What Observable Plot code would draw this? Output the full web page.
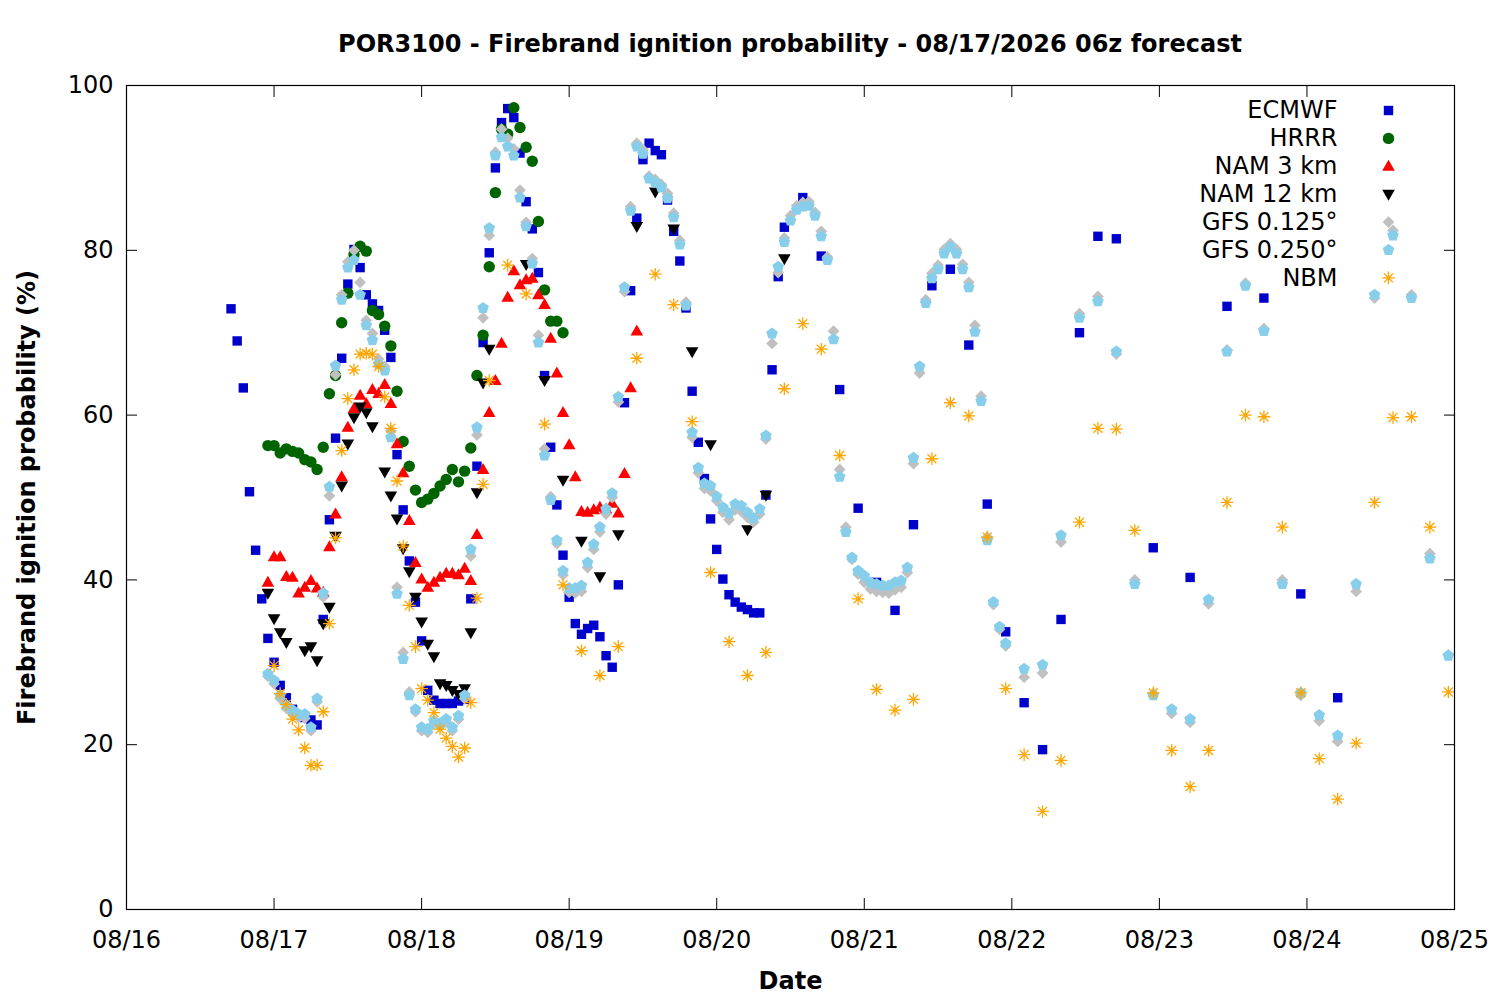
<!DOCTYPE html>
<html>
<head>
<meta charset="utf-8">
<script src="https://cdn.jsdelivr.net/npm/d3@7"></script>
<script src="https://cdn.jsdelivr.net/npm/@observablehq/plot@0.6"></script>
<style>
  html, body { margin: 0; padding: 0; background: #fff; }
  #title { box-sizing: border-box; width: 1500px; height: 62px; padding: 32px 46px 0 126px;
    font: bold 24px/24px "DejaVu Sans", sans-serif; text-align: center; color: #000; white-space: nowrap; }
  svg { display: block; }
</style>
</head>
<body>
<div id="title">POR3100 - Firebrand ignition probability - 08/17/2026 06z forecast</div>
<div id="chart"></div>
<script>
// ---------- forecast-hour schedules (hours after 08/16 00:00) ----------
function range(a, b, step) { const r = []; for (let h = a; h <= b; h += step) r.push(h); return r; }

const ecmwfHours = [...range(17, 107, 1), ...range(110, 161, 3), ...range(167, 197, 6)];
const ecmwfValues = [
  72.9, 69.0, 63.3, 50.7, 43.6, 37.7, 32.9, 30.0, 27.2, 25.7,
  24.3, 23.6, 23.3, 23.0, 22.4, 35.2, 47.3, 57.2, 66.9, 75.9,
  80.1, 77.9, 74.6, 73.5, 72.7, 70.3, 67.0, 55.2, 48.5, 42.3,
  37.3, 32.6, 26.6, 25.4, 25.0, 25.0, 25.0, 25.3, 25.5, 37.7,
  53.8, 68.8, 79.7, 90.0, 95.5, 97.2, 96.1, 91.8, 85.9, 82.6,
  77.3, 64.8, 56.1, 49.1, 43.0, 37.9, 34.7, 33.4, 34.1, 34.5,
  33.1, 30.8, 29.4, 39.4, 61.5, 75.1, 83.9, 91.0, 93.0, 92.1,
  91.6, 86.1, 82.3, 78.7, 73.0, 62.9, 56.7, 52.3, 47.4, 43.7,
  40.1, 38.2, 37.3, 36.7, 36.4, 36.0, 36.0, 50.3, 65.5, 76.8,
  82.8,
  86.4, 79.3, 63.1, 48.7, 39.7, 36.3, 46.7, 75.7, 77.7, 68.5,
  49.2, 33.7, 25.1, 19.4, 35.2, 70.0, 81.7, 81.4,
  43.9, 40.3, 73.2, 74.2, 38.3, 25.7
];

const hrrrHours = range(23, 71, 1);
const hrrrValues = [
  56.3, 56.3, 55.4, 55.9, 55.6, 55.4, 54.6, 54.3, 53.4, 56.1,
  62.6, 64.8, 71.2, 74.8, 79.5, 80.5, 79.9, 72.7, 72.2, 70.8,
  68.4, 62.9, 56.8, 53.8, 50.9, 49.4, 49.8, 50.5, 51.4, 52.2,
  53.4, 51.9, 53.2, 56.0, 64.8, 69.7, 78.0, 87.0, 94.7, 94.1,
  97.3, 94.9, 92.5, 90.8, 83.5, 75.2, 71.4, 71.4, 70.0
];

const nam3Hours = range(23, 83, 1);
const nam3Values = [
  39.7, 42.8, 42.8, 40.4, 40.3, 38.4, 39.1, 39.9, 39.0, 38.5,
  44.0, 48.0, 52.5, 58.5, 60.8, 62.4, 61.4, 63.1, 62.6, 63.7,
  61.4, 56.5, 53.0, 47.2, 42.1, 40.1, 39.1, 39.7, 40.3, 40.8,
  40.8, 40.6, 41.4, 39.9, 45.5, 53.4, 60.3, 64.2, 68.7, 74.3,
  77.5, 75.8, 76.4, 76.6, 74.6, 73.4, 69.3, 65.1, 60.3, 56.4,
  52.5, 48.3, 48.2, 48.5, 48.8, 48.6, 49.3, 48.1, 52.9, 63.3,
  70.2
];

const nam12Hours = [...range(23, 59, 1), ...range(62, 107, 3)];
const nam12Values = [
  38.4, 35.3, 33.6, 32.4, null, null, 31.4, 31.9, 30.2, 34.7,
  36.7, 45.3, 51.4, 56.5, 59.7, 61.0, 60.3, 58.6, null, 53.1,
  50.2, 47.4, 43.8, 41.0, 37.9, 34.9, 32.2, 30.7, 27.4, 27.2,
  26.6, 26.1, 26.8, 33.6, 50.6, 63.9, 68.0,
  null, 78.3, 64.2, 52.1, 44.7, 40.4, 45.5, 82.9, 87.1, 82.6,
  67.7, 56.4, null, 46.1, 50.3, 79.0
];

const gfsHours = [...range(23, 143, 1), ...range(146, 215, 3)];
const gfs0125Values = [
  28.3, 27.4, 25.6, 24.4, 23.8, 23.3, 23.2, 21.7, 25.2, 37.9,
  50.2, 64.9, 74.6, 78.6, 80.0, 76.1, 71.5, 69.9, 66.8, 65.9,
  58.1, 39.1, 31.2, 26.4, 24.0, 21.7, 21.5, 22.5, 22.2, 22.7,
  21.7, 23.1, 25.6, 42.9, 57.6, 71.8, 81.8, 91.9, 94.7, 93.6,
  92.3, 87.3, 83.4, 79.0, 69.7, 55.9, 50.1, 44.4, 40.6, 38.5,
  38.4, 38.6, 41.5, 43.7, 45.8, 48.0, 50.0, 61.6, 75.0, 85.3,
  93.0, 92.2, 89.0, 88.6, 88.0, 86.9, 84.5, 81.2, 73.7, 57.3,
  53.0, 51.1, 50.8, 49.6, 48.2, 47.3, 48.5, 48.3, 47.6, 47.0,
  48.0, 57.1, 68.7, 77.3, 81.5, 84.2, 85.4, 85.8, 85.9, 84.6,
  82.3, 79.2, 70.2, 53.4, 46.4, 42.5, 40.7, 39.7, 38.9, 38.6,
  38.5, 38.4, 38.8, 39.1, 40.9, 54.1, 65.1, 74.0, 77.2, 78.2,
  80.1, 80.8, 80.1, 78.3, 76.1, 70.9, 62.3, 45.2, 37.0, 34.0,
  32.0,
  28.2, 28.7, 44.6, 72.3, 74.4, 67.4, 40.0, 26.2, 23.8, 22.7,
  37.1, 67.9, 76.0, 70.5, 40.0, 26.0, 22.9, 20.4, 38.6, 74.2,
  82.4, 74.6, 43.2, 30.9
];
const gfs0250Values = [
  28.6, 27.8, 26.0, 24.8, 24.2, 23.7, 23.7, 22.1, 25.6, 38.4,
  51.3, 66.0, 74.0, 77.9, 78.8, 74.6, 70.9, 69.1, 66.2, 65.4,
  57.3, 38.3, 30.4, 26.0, 24.3, 22.1, 21.9, 22.9, 22.6, 23.1,
  22.1, 23.5, 26.0, 43.7, 58.5, 73.0, 82.7, 91.5, 93.7, 92.6,
  91.5, 86.4, 82.9, 78.4, 68.8, 55.1, 49.7, 44.8, 41.1, 39.0,
  39.0, 39.3, 42.1, 44.3, 46.4, 48.6, 50.5, 62.2, 75.5, 84.8,
  92.6, 91.7, 88.7, 88.2, 87.6, 86.3, 84.0, 80.7, 73.3, 57.9,
  53.6, 51.7, 51.4, 50.1, 48.8, 48.1, 49.2, 49.0, 48.2, 47.5,
  48.6, 57.5, 69.9, 78.0, 81.0, 83.6, 84.9, 85.3, 85.4, 84.2,
  81.7, 78.8, 69.2, 52.5, 45.8, 42.7, 41.1, 40.5, 39.7, 39.5,
  39.3, 39.3, 39.7, 39.9, 41.5, 54.8, 65.9, 73.6, 76.6, 77.7,
  79.6, 80.4, 79.6, 77.7, 75.5, 70.1, 61.7, 44.8, 37.3, 34.3,
  32.3,
  29.2, 29.7, 45.4, 71.8, 73.8, 67.7, 39.5, 26.0, 24.3, 23.1,
  37.6, 67.7, 75.7, 70.2, 39.5, 26.3, 23.6, 21.1, 39.5, 74.6,
  81.8, 74.2, 42.6, 30.8
];

const nbmHours = [...range(24, 59, 1), ...range(62, 215, 3)];
const nbmValues = [
  29.6, 26.2, 24.9, 23.1, 21.8, 19.6, 17.5, 17.5, 24.0, 34.7,
  45.1, 55.7, 62.0, 65.5, 67.4, 67.5, 67.4, 65.9, 62.2, 58.4,
  52.0, 44.1, 36.9, 31.9, 26.8, 25.4, 23.9, 21.9, 20.8, 19.8,
  18.5, 19.6, 25.1, 37.8, 51.6, 64.2,
  78.2, 74.7, 58.9, 39.4, 31.4, 28.4, 31.9, 66.9, 77.1, 73.4,
  59.2, 40.9, 32.5, 28.4, 31.2, 63.2, 71.1, 68.0, 55.1, 37.7,
  26.7, 24.2, 25.5, 54.7, 61.5, 59.9, 45.2, 26.8, 18.8, 11.9,
  18.1, 47.0, 58.4, 58.3, 46.0, 26.3, 19.3, 14.9, 19.3, 49.4,
  60.0, 59.8, 46.4, 26.3, 18.3, 13.4, 20.2, 49.4, 59.7, 59.8,
  46.4, 26.4
];

const seriesNames = ["ECMWF", "HRRR", "NAM 3 km", "NAM 12 km", "GFS 0.125°", "GFS 0.250°", "NBM"];
const xTickDays = [16, 17, 18, 19, 20, 21, 22, 23, 24, 25];
const yTickValues = [0, 20, 40, 60, 80, 100];

// ---------- helpers ----------
const t = h => new Date(Date.UTC(2026, 7, 16, h));
const rows = (hours, values) => values.map((v, i) => ({date: t(hours[i]), value: v})).filter(d => d.value != null);

const sym = {
  square: {draw(c) { const s = 4.7; c.moveTo(-s, -s); c.lineTo(s, -s); c.lineTo(s, s); c.lineTo(-s, s); c.closePath(); }},
  circle: {draw(c) { const r = 5.7; c.moveTo(r, 0); c.arc(0, 0, r, 0, 2 * Math.PI); c.closePath(); }},
  triUp: {draw(c) { c.moveTo(0, -6.6); c.lineTo(6.3, 4.4); c.lineTo(-6.3, 4.4); c.closePath(); }},
  triDown: {draw(c) { c.moveTo(0, 6.6); c.lineTo(6.3, -4.4); c.lineTo(-6.3, -4.4); c.closePath(); }},
  diamond: {draw(c) { const s = 5.9; c.moveTo(0, -s); c.lineTo(s, 0); c.lineTo(0, s); c.lineTo(-s, 0); c.closePath(); }},
  pentagon: {draw(c) { const R = 6.1; for (let k = 0; k < 5; k++) { const a = -Math.PI / 2 + k * 2 * Math.PI / 5; const x = R * Math.cos(a), y = R * Math.sin(a); if (k) c.lineTo(x, y); else c.moveTo(x, y); } c.closePath(); }},
  asterisk: {draw(c) { const s = 6.3, d = s * 0.7071; c.moveTo(-s, 0); c.lineTo(s, 0); c.moveTo(0, -s); c.lineTo(0, s); c.moveTo(-d, -d); c.lineTo(d, d); c.moveTo(-d, d); c.lineTo(d, -d); }}
};

const series = [
  {data: rows(ecmwfHours, ecmwfValues), symbol: sym.square, fill: "#0000cd"},
  {data: rows(hrrrHours, hrrrValues), symbol: sym.circle, fill: "#006400"},
  {data: rows(nam3Hours, nam3Values), symbol: sym.triUp, fill: "#ff0000"},
  {data: rows(nam12Hours, nam12Values), symbol: sym.triDown, fill: "#000000"},
  {data: rows(gfsHours, gfs0125Values), symbol: sym.diamond, fill: "#c0c0c0"},
  {data: rows(gfsHours, gfs0250Values), symbol: sym.pentagon, fill: "#87ceeb"},
  {data: rows(nbmHours, nbmValues), symbol: sym.asterisk, stroke: "#ffa500"}
];

const style = (s) => s.stroke ? {fill: "none", stroke: s.stroke, strokeWidth: 1.3} : {fill: s.fill, stroke: "none"};

const dataMarks = series.map(s => Plot.dot(s.data, {x: "date", y: "value", r: 3, symbol: s.symbol, ...style(s)}));

const legendMarks = [];
series.forEach((s, i) => {
  const dy = 25 + 27.9 * i;
  legendMarks.push(Plot.text([seriesNames[i]], {text: d => d, frameAnchor: "top-right", dx: -117, dy, textAnchor: "end", lineAnchor: "middle", fontSize: 24, fill: "black"}));
  legendMarks.push(Plot.dot([0], {frameAnchor: "top-right", dx: -66, dy, r: 3, symbol: s.symbol, ...style(s)}));
});

const xTicks = xTickDays.map(d => new Date(Date.UTC(2026, 7, d)));

const chart = Plot.plot({
  width: 1500,
  height: 938,
  marginTop: 23,
  marginRight: 46,
  marginBottom: 91,
  marginLeft: 126,
  style: {fontFamily: "'DejaVu Sans', sans-serif", fontSize: "24px", color: "black", background: "white", overflow: "visible"},
  x: {type: "utc", domain: [t(0), t(216)]},
  y: {domain: [0, 100]},
  marks: [
    ...dataMarks,
    Plot.frame({stroke: "black", strokeWidth: 1.2}),
    Plot.axisX(xTicks, {anchor: "bottom", tickSize: -11, tickPadding: 32, tickFormat: d3.utcFormat("%m/%d"), label: null, fontSize: 24}),
    Plot.axisX(xTicks, {anchor: "top", tickSize: -11, tickFormat: () => null, label: null}),
    Plot.axisY(yTickValues, {anchor: "left", tickSize: -11, tickPadding: 24, label: null, fontSize: 24}),
    Plot.axisY(yTickValues, {anchor: "right", tickSize: -11, tickFormat: () => null, label: null}),
    ...legendMarks,
    Plot.text(["Date"], {text: d => d, frameAnchor: "bottom", dy: 71.5, textAnchor: "middle", lineAnchor: "middle", fontWeight: "bold", fontSize: 24}),
    Plot.text(["Firebrand ignition probability (%)"], {text: d => d, frameAnchor: "left", dx: -99, rotate: -90, textAnchor: "middle", lineAnchor: "middle", fontWeight: "bold", fontSize: 24})
  ]
});
document.getElementById("chart").appendChild(chart);
</script>
</body>
</html>
